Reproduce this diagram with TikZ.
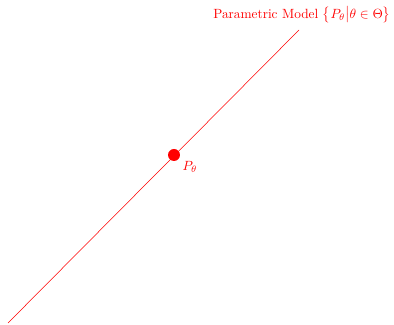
\documentclass[tikz,border=0pt]{standalone}
\usepackage{tikz}
\usetikzlibrary{positioning}

\begin{document}
\begin{tikzpicture}[x=.75pt,y=.75pt]
\useasboundingbox (0,0) rectangle (394,325);
\coordinate (lo) at (8,2);
\coordinate (hi) at (299,295);
\draw[red] (lo)--(hi);
\node[circle,fill=red,inner sep=0pt,minimum size=9pt] (p) at (174,170){};
\node[text=red,anchor=north west,inner sep=1pt] (pl) at (181,165){$P_\theta$};
\node[text=red] (m) at (302,310){Parametric Model $\bigl\{P_\theta\big|\theta\in\Theta\bigr\}$};
\end{tikzpicture}
\end{document}
